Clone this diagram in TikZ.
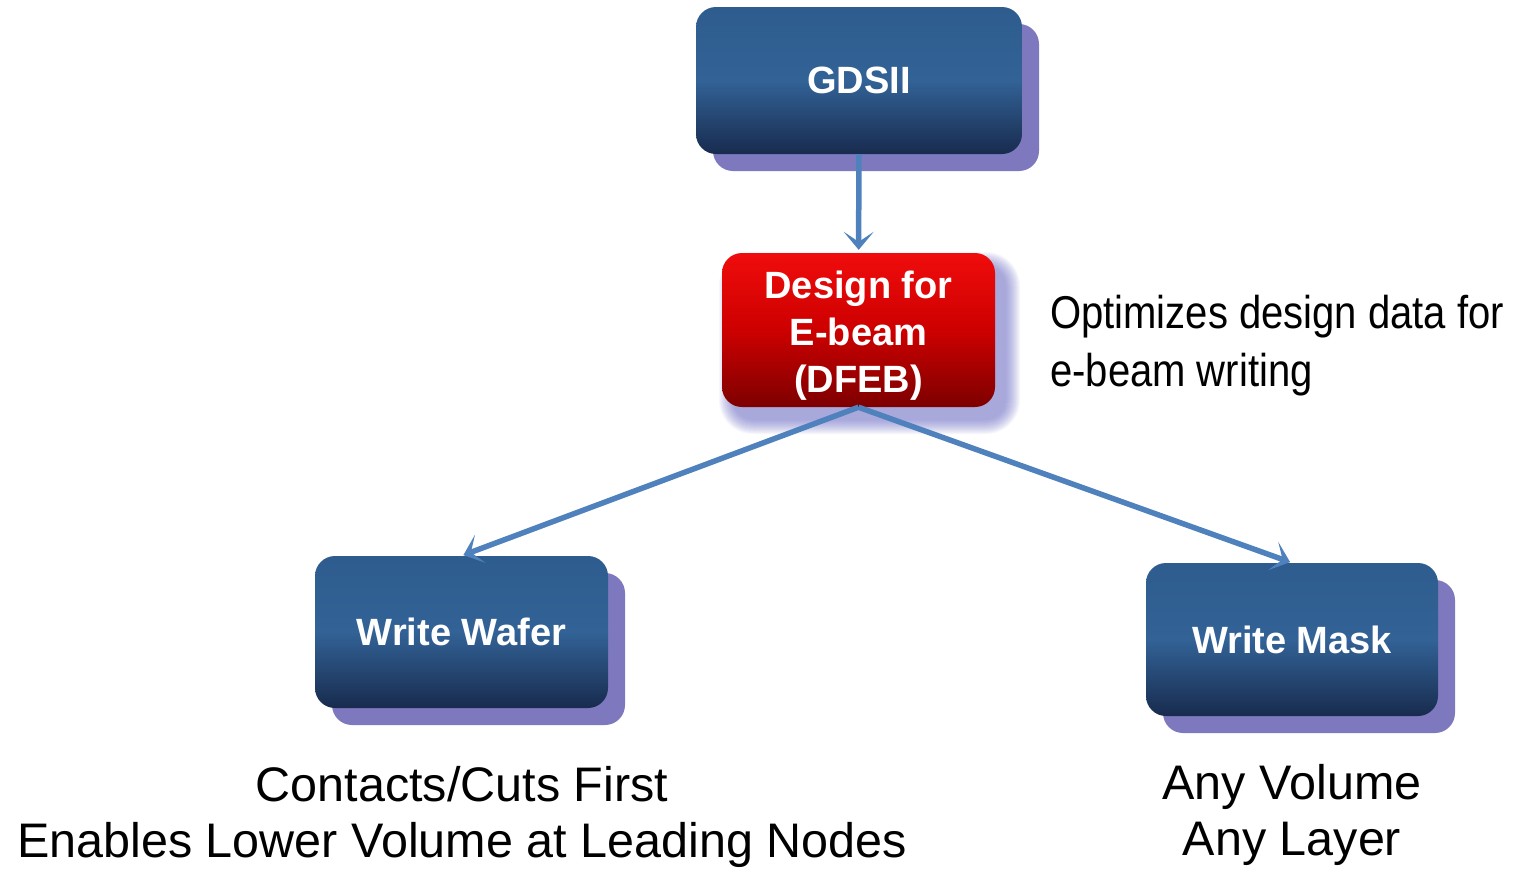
\documentclass[tikz,border=0pt]{standalone}
\usepackage{fontspec}
\setmainfont{Liberation Sans}
\newfontfamily\narrowfont[FakeStretch=0.87]{Liberation Sans}
\usetikzlibrary{shadows,arrows.meta}

\definecolor{boxtop}{RGB}{46,92,142}
\definecolor{boxmid}{RGB}{50,98,150}
\definecolor{boxbot}{RGB}{24,43,78}
\definecolor{boxshadow}{RGB}{126,121,190}
\definecolor{redtop}{RGB}{240,12,12}
\definecolor{redmid}{RGB}{205,0,0}
\definecolor{redbot}{RGB}{125,0,0}
\definecolor{glowblue}{RGB}{105,105,200}
\definecolor{flowblue}{RGB}{79,129,189}

\tikzset{
  bluebox/.style={rounded corners=20pt, minimum width=#1, inner sep=0pt,
    top color=boxtop, bottom color=boxbot, middle color=boxmid,
    drop shadow={shadow xshift=17pt, shadow yshift=-17pt, fill=boxshadow, opacity=1},
    text=white, font=\bfseries\fontsize{38}{47}\selectfont, align=center},
  redbox/.style={rounded corners=20pt, minimum width=273pt, minimum height=154pt, inner sep=0pt,
    top color=redtop, bottom color=redbot, middle color=redmid},
  boxtext/.style={text=white, inner sep=0pt, align=center,
    font=\bfseries\fontsize{38}{47}\selectfont},
  note/.style={text=black, inner sep=0pt, align=center,
    font=\fontsize{48.5}{56}\selectfont},
  flow/.style={draw=flowblue, line width=5.5pt,
    -{Stealth[length=18pt, width=30pt, inset=10pt]}}
}

\begin{document}
\begin{tikzpicture}[x=1pt, y=-1pt]
  \useasboundingbox[fill=white] (0,0) rectangle (1513,868);

  % soft glow under the DFEB box
  \foreach \i in {0,...,14}
    \fill[glowblue, opacity=0.05, rounded corners={20+\i}]
      ({733-\i},{266-\i}) rectangle ({1006+\i},{420+\i});

  % process boxes
  \node[bluebox=326pt, minimum height=147pt] (gdsii) at (859,80.5) {GDSII};
  \node[redbox] (dfeb) at (858.5,330) {};
  \node[boxtext] (dfeblabel) at (858.5,336) {Design for\\E-beam\\(DFEB)};
  \node[bluebox=293pt, minimum height=152pt] (wafer) at (461.5,632) {Write Wafer};
  \node[bluebox=292pt, minimum height=153pt] (mask) at (1292,639.5) {Write Mask};

  % connectors
  \draw[flow, shorten >=3pt] (gdsii) -- (dfeb);
  \draw[flow, shorten >=2pt] (dfeb.south) -- (wafer.north);
  \draw[flow, shorten >=2pt] (dfeb.south) -- (mask.north);

  % descriptions
  \node[anchor=west, inner sep=0pt, align=left,
        font=\narrowfont\fontsize{46}{58}\selectfont] (dfebnote) at (1050,346)
    {Optimizes design data for\\e-beam writing};
  \node[note] (wafernote) at (462,817)
    {Contacts/Cuts First\\Enables Lower Volume at Leading Nodes};
  \node[note] (masknote) at (1292,815) {Any Volume\\Any Layer};
\end{tikzpicture}
\end{document}
